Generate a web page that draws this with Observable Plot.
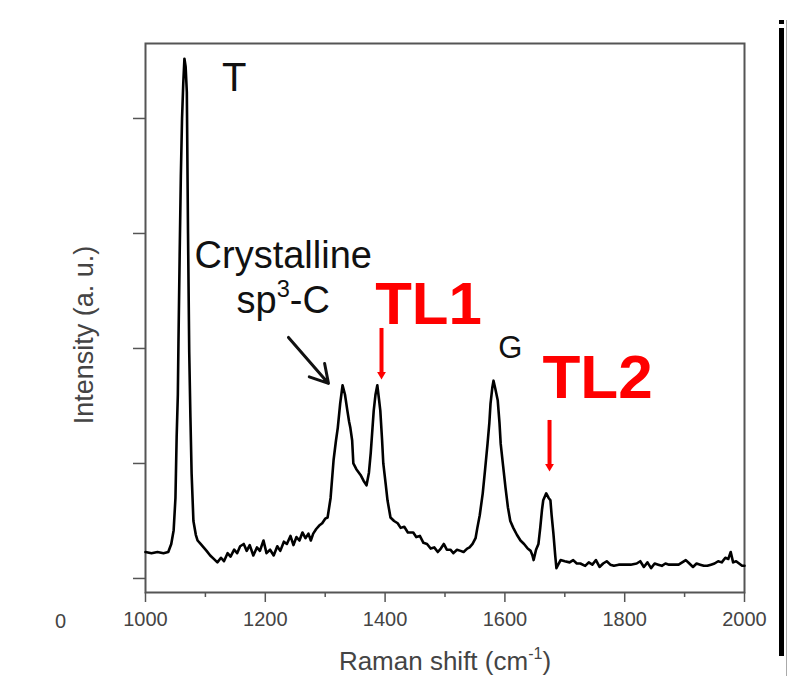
<!DOCTYPE html>
<html>
<head>
<meta charset="utf-8">
<script src="https://cdn.jsdelivr.net/npm/d3@7"></script>
<script src="https://cdn.jsdelivr.net/npm/@observablehq/plot@0.6"></script>
<style>
  body { margin: 0; background: #fff; }
  #wrap { position: relative; width: 788px; height: 676px; overflow: hidden; background: #fff; }
  #wrap svg { position: absolute; left: 0; top: 0; }
  .edge { position: absolute; background: #000; }
  #edgeMain { left: 779px; top: 28px; width: 5px; height: 628px; }
  #edgeDot { left: 779px; top: 20px; width: 5px; height: 4px; }
  #edgeThin { left: 786px; top: 20px; width: 1px; height: 656px; background: #aaa; }
</style>
</head>
<body>
<div id="wrap">
  <div class="edge" id="edgeMain"></div>
  <div class="edge" id="edgeDot"></div>
  <div class="edge" id="edgeThin"></div>
</div>
<script>
// ---- Spectrum (Raman shift in cm^-1, intensity in a.u.) ----
const ramanShift = [
  1000, 1010, 1020, 1030, 1038, 1043, 1047, 1050, 1052, 1054, 1055, 1057, 1059, 1061, 1063, 1065, 1067, 1069, 1071, 1073,
  1075, 1077, 1080, 1084, 1087, 1092, 1097, 1102, 1108, 1114, 1120, 1126, 1131, 1137, 1142, 1148, 1153, 1158, 1164, 1169,
  1174, 1180, 1186, 1191, 1197, 1202, 1208, 1214, 1220, 1225, 1231, 1236, 1242, 1247, 1252, 1257, 1262, 1267, 1272, 1276,
  1280, 1285, 1290, 1295, 1300, 1304, 1309, 1314, 1318, 1321, 1325, 1329, 1333, 1337, 1340, 1342, 1345, 1347, 1352, 1359,
  1364, 1369, 1373, 1376, 1381, 1384, 1387, 1390, 1392, 1395, 1397, 1401, 1404, 1409, 1415, 1421, 1426, 1432, 1438, 1447,
  1452, 1458, 1464, 1470, 1476, 1482, 1488, 1493, 1498, 1503, 1509, 1514, 1520, 1526, 1531, 1537, 1541, 1546, 1551, 1554,
  1558, 1563, 1567, 1571, 1574, 1576, 1579, 1581, 1584, 1588, 1591, 1593, 1597, 1601, 1605, 1609, 1614, 1620, 1626, 1632,
  1638, 1643, 1646, 1648, 1652, 1656, 1659, 1662, 1664, 1669, 1673, 1676, 1678, 1681, 1684, 1686, 1689, 1693, 1700, 1708,
  1714, 1720, 1726, 1734, 1740, 1746, 1752, 1758, 1764, 1770, 1776, 1782, 1790, 1800, 1810, 1820, 1826, 1832, 1838, 1844,
  1850, 1856, 1862, 1868, 1874, 1882, 1890, 1896, 1902, 1908, 1914, 1920, 1926, 1932, 1938, 1944, 1950, 1956, 1962, 1968,
  1973, 1977, 1981, 1986, 1991, 1996, 2000
];
const intensity = [
  0.23, 0.22, 0.23, 0.22, 0.23, 0.30, 0.42, 0.70, 1.23, 1.60, 2.04, 2.80, 3.50, 4.00, 4.30, 4.52, 4.45, 4.23, 3.00, 1.97,
  1.40, 0.91, 0.50, 0.38, 0.33, 0.30, 0.27, 0.24, 0.20, 0.17, 0.14, 0.18, 0.15, 0.22, 0.19, 0.25, 0.22, 0.28, 0.30, 0.24,
  0.29, 0.20, 0.27, 0.24, 0.33, 0.22, 0.25, 0.20, 0.28, 0.24, 0.32, 0.30, 0.37, 0.29, 0.36, 0.33, 0.40, 0.35, 0.39, 0.33,
  0.39, 0.43, 0.46, 0.48, 0.52, 0.53, 0.70, 1.03, 1.20, 1.31, 1.52, 1.68, 1.60, 1.46, 1.36, 1.31, 1.20, 1.00, 0.95, 0.90,
  0.85, 0.81, 0.92, 1.09, 1.46, 1.60, 1.68, 1.55, 1.46, 1.20, 1.00, 0.82, 0.68, 0.53, 0.50, 0.48, 0.44, 0.45, 0.40, 0.40,
  0.36, 0.37, 0.31, 0.30, 0.26, 0.27, 0.23, 0.26, 0.30, 0.25, 0.25, 0.22, 0.25, 0.24, 0.23, 0.26, 0.27, 0.30, 0.35, 0.44,
  0.55, 0.74, 0.95, 1.17, 1.35, 1.52, 1.66, 1.72, 1.65, 1.55, 1.35, 1.17, 0.98, 0.79, 0.62, 0.50, 0.44, 0.38, 0.33, 0.30,
  0.26, 0.24, 0.20, 0.16, 0.25, 0.30, 0.44, 0.60, 0.68, 0.74, 0.70, 0.68, 0.55, 0.39, 0.20, 0.09, 0.12, 0.16, 0.15, 0.14,
  0.16, 0.13, 0.13, 0.11, 0.14, 0.12, 0.16, 0.10, 0.13, 0.15, 0.12, 0.11, 0.12, 0.12, 0.12, 0.13, 0.15, 0.10, 0.14, 0.09,
  0.13, 0.12, 0.11, 0.13, 0.12, 0.12, 0.12, 0.14, 0.16, 0.13, 0.10, 0.13, 0.12, 0.11, 0.11, 0.12, 0.13, 0.15, 0.14, 0.18,
  0.17, 0.23, 0.14, 0.15, 0.13, 0.11, 0.11
];

// ---- Axes ----
const xMajorTicks = [1000, 1200, 1400, 1600, 1800, 2000];
const xMinorTicks = [1100, 1300, 1500, 1700, 1900];
const yTicks = [0, 1, 2, 3, 4];
const xDomain = [1000, 2000];
const yDomain = [-0.122, 4.652];
const xAxisLabel = "Raman shift (cm^-1^)";
const yAxisLabel = "Intensity (a. u.)";
const strayTickLabel = "0";

// ---- Black peak labels ----
const peakLabelText = ["T", "Crystalline", "sp^3^-C", "G"];
const peakLabelX = [1148, 1230, 1230, 1609];
const peakLabelY = [4.24, 2.70, 2.31, 1.913];
const peakLabelSize = [40, 38, 38, 31];

// ---- Red labels ----
const redLabelText = ["TL1", "TL2"];
const redLabelX = [1472.5, 1754.6];
const redLabelY = [2.217, 1.565];
const redLabelSize = [60, 62];

// ---- Red arrows (x, top, tip) ----
const redArrowX = [1394, 1674.5];
const redArrowTop = [2.174, 1.374];
const redArrowTip = [1.722, 0.922];

// ---- Black arrow (crystalline sp3-C) ----
const blackArrow = [{x1: 1238.7, y1: 2.096, x2: 1305.5, y2: 1.696}];

const spectrum = ramanShift.map((x, i) => ({x, y: intensity[i]}));
const peakLabels = peakLabelText.map((t, i) => ({t, x: peakLabelX[i], y: peakLabelY[i], s: peakLabelSize[i]}));
const redLabels = redLabelText.map((t, i) => ({t, x: redLabelX[i], y: redLabelY[i], s: redLabelSize[i]}));
const redArrows = redArrowX.map((x, i) => ({x, top: redArrowTop[i], tip: redArrowTip[i]}));

const FONT = "Liberation Sans, Arial, Helvetica, sans-serif";

const chart = Plot.plot({
  width: 788,
  height: 676,
  marginLeft: 145,
  marginRight: 44,
  marginTop: 43,
  marginBottom: 84,
  style: {fontFamily: FONT, background: "transparent", overflow: "visible"},
  x: {domain: xDomain},
  y: {domain: yDomain},
  marks: [
    Plot.axisX(xMinorTicks, {tickSize: 5, tickFormat: () => "", label: null, stroke: "#555", strokeWidth: 1.5}),
    Plot.axisX(xMajorTicks, {tickSize: 10, tickPadding: 9, label: null, fontSize: 20, color: "#444", stroke: "#555", strokeWidth: 1.5, tickFormat: d3.format("d")}),
    Plot.axisY(yTicks, {tickSize: 12, tickFormat: () => "", label: null, stroke: "#555", strokeWidth: 1.5}),
    Plot.frame({stroke: "#555", strokeWidth: 2}),
    Plot.line(spectrum, {x: "x", y: "y", stroke: "#000", strokeWidth: 2.6, strokeLinejoin: "round"}),
    Plot.text(peakLabels, {x: "x", y: "y", text: "t", fontSize: (d) => d.s, fill: "#111", textAnchor: "middle", lineAnchor: "bottom"}),
    Plot.text(redLabels, {x: "x", y: "y", text: "t", fontSize: (d) => d.s, fill: "#ff0000", fontWeight: "bold", textAnchor: "middle", lineAnchor: "bottom"}),
    Plot.ruleX(redArrows, {x: "x", y1: "top", y2: "tip", stroke: "#ff0000", strokeWidth: 4, insetBottom: 6}),
    Plot.dot(redArrows, {x: "x", y: "tip", symbol: "triangle2", rotate: 180, r: 4.2, fill: "#ff0000", stroke: "none", dy: -6}),
    Plot.arrow(blackArrow, {x1: "x1", y1: "y1", x2: "x2", y2: "y2", stroke: "#111", strokeWidth: 3, headLength: 12, headAngle: 60}),
    Plot.text([xAxisLabel], {frameAnchor: "bottom", dy: 77, text: (d) => d, fontSize: 26, fill: "#444", textAnchor: "middle", lineAnchor: "bottom"}),
    Plot.text([yAxisLabel], {frameAnchor: "left", dx: -53, dy: 17, rotate: -90, text: (d) => d, fontSize: 27, fill: "#444", textAnchor: "middle", lineAnchor: "bottom"}),
    Plot.text([strayTickLabel], {frameAnchor: "bottom-left", dx: -85, dy: 35, text: (d) => d, fontSize: 20, fill: "#444", textAnchor: "middle", lineAnchor: "bottom"})
  ]
});

document.getElementById("wrap").appendChild(chart);

// Superscripts: segments wrapped in ^...^ are raised and reduced
function fontSizeOf(el) {
  let node = el;
  while (node && node.getAttribute) {
    const a = node.getAttribute("font-size");
    if (a) return parseFloat(a);
    node = node.parentNode;
  }
  return parseFloat(getComputedStyle(el).fontSize) || 20;
}
d3.select(chart).selectAll("text").each(function () {
  const el = this;
  const content = el.textContent;
  if (!content.includes("^")) return;
  const fs = fontSizeOf(el);
  const parts = content.split("^");
  while (el.firstChild) el.removeChild(el.firstChild);
  let raised = false;
  parts.forEach((p, i) => {
    if (!p) return;
    const ts = document.createElementNS("http://www.w3.org/2000/svg", "tspan");
    ts.textContent = p;
    if (i % 2 === 1) {
      ts.setAttribute("font-size", (fs * 0.62).toFixed(1));
      ts.setAttribute("dy", (-fs * 0.42).toFixed(1));
      raised = true;
    } else if (raised) {
      ts.setAttribute("dy", (fs * 0.42).toFixed(1));
      raised = false;
    }
    el.appendChild(ts);
  });
});
</script>
</body>
</html>
